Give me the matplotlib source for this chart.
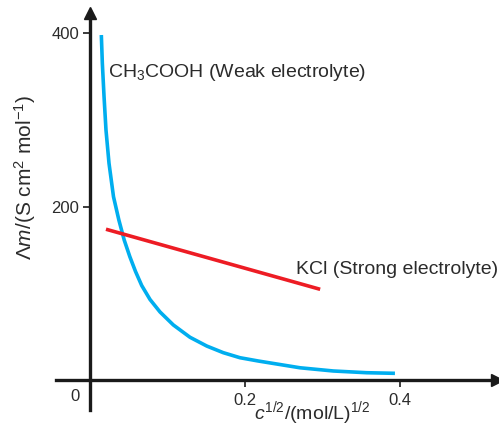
import matplotlib
matplotlib.use("Agg")
import matplotlib.pyplot as plt

plt.rcParams['font.family'] = ['Liberation Sans', 'DejaVu Sans']
plt.rcParams['mathtext.fontset'] = 'custom'
plt.rcParams['mathtext.rm'] = 'Liberation Sans'
plt.rcParams['mathtext.it'] = 'Liberation Sans:italic'
plt.rcParams['mathtext.bf'] = 'Liberation Sans:bold'

# Weak electrolyte (CH3COOH) curve
weak_x = [0.0146, 0.0159, 0.0181, 0.0206, 0.0245, 0.0303, 0.0372, 0.0441, 0.0514,
          0.0587, 0.0667, 0.0774, 0.0903, 0.1075, 0.1290, 0.1506, 0.1720, 0.1935,
          0.2172, 0.2710, 0.3139, 0.3570, 0.3935]
weak_y = [398.0, 365.4, 326.9, 288.5, 250.1, 211.5, 184.7, 161.6, 142.3,
          125.3, 109.1, 93.0, 78.6, 63.6, 49.4, 39.3, 31.6, 25.8,
          22.0, 14.2, 10.5, 8.5, 7.8]

# Strong electrolyte (KCl) line
strong_x = [0.0206, 0.297]
strong_y = [174, 104.7]

xticks = [0.2, 0.4]
xticklabels = ["0.2", "0.4"]
yticks = [200, 400]
yticklabels = ["200", "400"]

W, H = 499, 429
fig = plt.figure(figsize=(W / 100, H / 100), dpi=100)
ax = fig.add_axes([56 / W, (H - 410) / H, 441 / W, 397 / H])
ax.set_xlim(-0.0439, 0.5252)
ax.set_ylim(-34.5, 423.4)

for s in ['top', 'right']:
    ax.spines[s].set_visible(False)
ax.spines['left'].set_position(('data', 0))
ax.spines['bottom'].set_position(('data', 0))
for s in ['left', 'bottom']:
    ax.spines[s].set_linewidth(2.4)
    ax.spines[s].set_color('#1a1a1a')

# arrow heads
ax.plot(1, 0, marker='>', color='#1a1a1a', markersize=9, transform=ax.get_yaxis_transform(), clip_on=False)
ax.plot(0, 1, marker='^', color='#1a1a1a', markersize=9, transform=ax.get_xaxis_transform(), clip_on=False)

ax.plot(weak_x, weak_y, color='#00aeef', lw=2.6, solid_capstyle='butt', solid_joinstyle='round')
ax.plot(strong_x, strong_y, color='#ed1c24', lw=2.6, solid_capstyle='butt')

ax.set_xticks(xticks)
ax.set_xticklabels(xticklabels)
ax.set_yticks(yticks)
ax.set_yticklabels(yticklabels)
ax.tick_params(axis='both', direction='out', length=5, width=1.2, color='#1a1a1a',
               labelsize=12, labelcolor='#2b2b2b', pad=3)
ax.tick_params(axis='x', pad=4)

ax.text(-0.014, -10, "0", fontsize=12, color='#2b2b2b', ha='right', va='top')

ax.text(0.023, 355, "CH$_3$COOH (Weak electrolyte)", fontsize=14, color='#2b2b2b', va='center', ha='left')
ax.text(0.266, 127, "KCl (Strong electrolyte)", fontsize=14, color='#2b2b2b', va='center', ha='left')

fig.text(312 / W, 2 / H, r"$\mathit{c}^{1/2}$/(mol/L)$^{1/2}$", fontsize=14,
         color='#2b2b2b', ha='center', va='bottom')
fig.text(25 / W, 1 - 178 / H, r"$\Lambda\mathit{m}$/(S cm$^2$ mol$^{-1}$)", fontsize=15,
         color='#2b2b2b', ha='center', va='center', rotation=90)

fig.savefig("out.png", dpi=100)
